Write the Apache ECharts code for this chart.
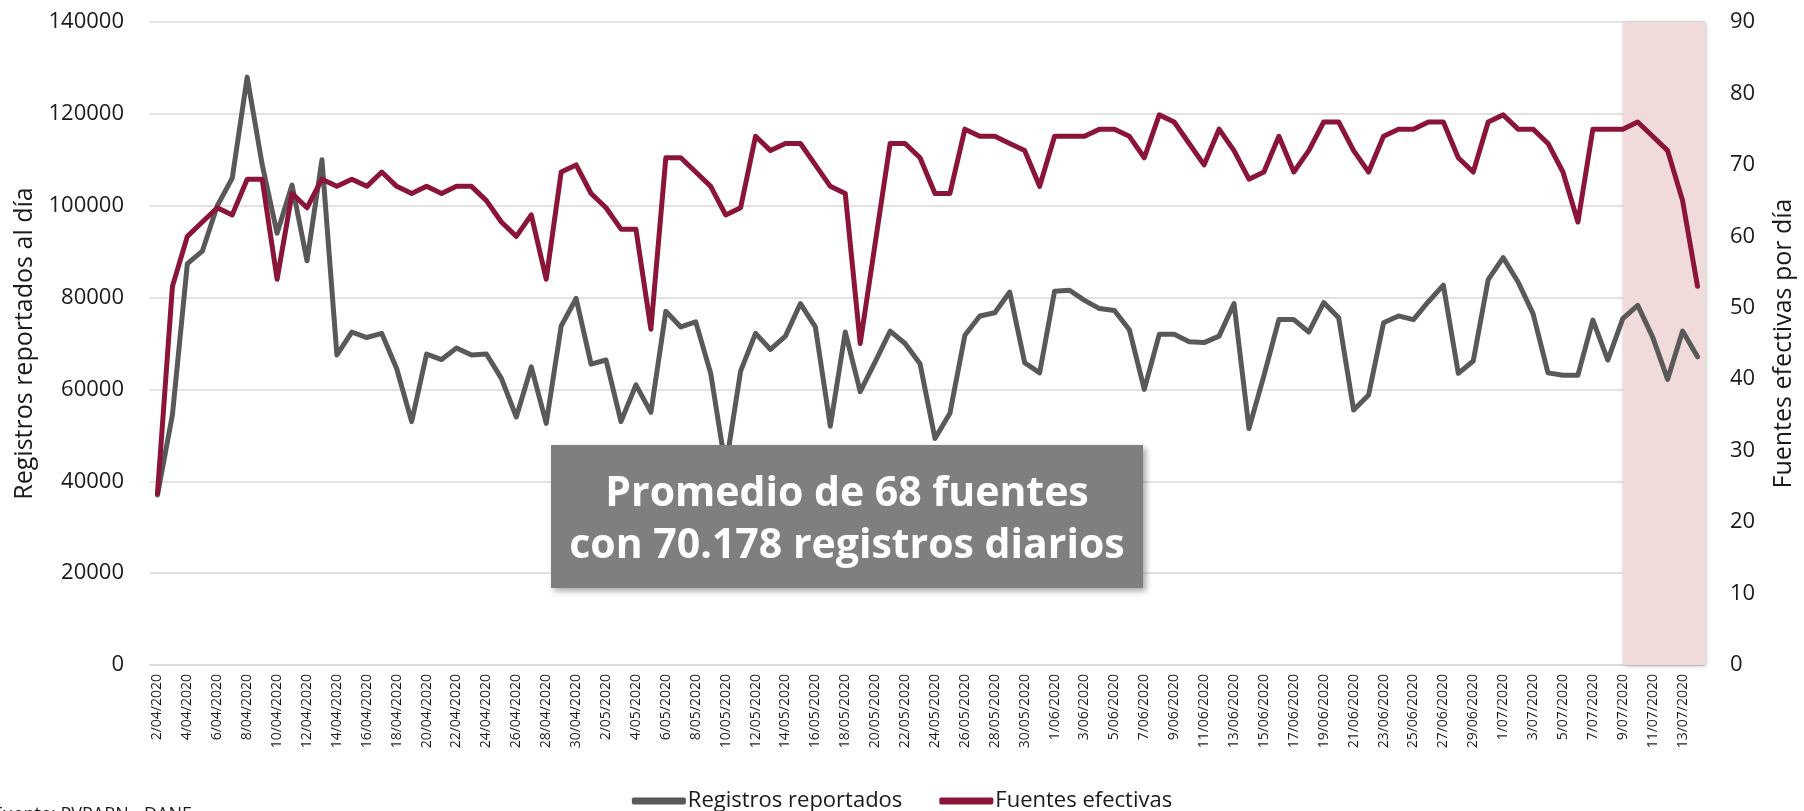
<!DOCTYPE html>
<html>
<head>
<meta charset="utf-8">
<script src="https://cdn.jsdelivr.net/npm/echarts@6/dist/echarts.min.js"></script>
<style>
  html, body { margin: 0; padding: 0; background: #fff; }
  #chart { width: 1804px; height: 811px; }
</style>
</head>
<body>
<div id="chart"></div>
<script>
// fechas 2/04/2020 .. 14/07/2020 (un punto por día)
var months = [['04', 2, 30], ['05', 1, 31], ['06', 1, 30], ['07', 1, 14]];
var fechas = [];
months.forEach(function (m) {
  for (var d = m[1]; d <= m[2]; d++) fechas.push(d + '/' + m[0] + '/2020');
});

// registros reportados al día (eje izquierdo)
var registros = [
  37000, 54500, 87400, 90100, 100000, 106000, 128000, 109000, 94000, 104500,
  88000, 110000, 67500, 72500, 71300, 72200, 64500, 53000, 67700, 66500,
  69000, 67500, 67700, 62400, 54000, 64900, 52600, 73800, 79800, 65500,
  66400, 53000, 61000, 55000, 77000, 73600, 74700, 63500, 43000, 64000,
  72200, 68700, 71600, 78700, 73600, 52000, 72500, 59500, 66000, 72700,
  70000, 65600, 49300, 54800, 71800, 76000, 76700, 81200, 65800, 63600,
  81400, 81600, 79400, 77600, 77200, 73000, 60000, 72000, 72000, 70400,
  70200, 71600, 78700, 51500, 63000, 75200, 75200, 72500, 78900, 75600,
  55500, 58800, 74500, 76000, 75200, 79100, 82700, 63500, 66200, 83900,
  88700, 83400, 76500, 63600, 63100, 63100, 75100, 66400, 75400, 78300,
  71400, 62200, 72700, 67100
];

// fuentes efectivas por día (eje derecho)
var fuentes = [
  24, 53, 60, 62, 64, 63, 68, 68, 54, 66,
  64, 68, 67, 68, 67, 69, 67, 66, 67, 66,
  67, 67, 65, 62, 60, 63, 54, 69, 70, 66,
  64, 61, 61, 47, 71, 71, 69, 67, 63, 64,
  74, 72, 73, 73, 70, 67, 66, 45, 59, 73,
  73, 71, 66, 66, 75, 74, 74, 73, 72, 67,
  74, 74, 74, 75, 75, 74, 71, 77, 76, 73,
  70, 75, 72, 68, 69, 74, 69, 72, 76, 76,
  72, 69, 74, 75, 75, 76, 76, 71, 69, 76,
  77, 75, 75, 73, 69, 62, 75, 75, 75, 76,
  74, 72, 65, 53
];

var inicioSombreado = '9/07/2020';
var nota = 'Promedio de 68 fuentes\ncon 70.178 registros diarios';
var fuente = 'Fuente: PVPARN - DANE';

var FONT = '"Open Sans", "Noto Sans", sans-serif';
var TEXTO = '#1a1a1a';
var GRIS = '#595959';
var VINO = '#8B1538';

var chart = echarts.init(document.getElementById('chart'));
chart.setOption({
  animation: false,
  textStyle: { fontFamily: FONT },
  grid: { left: 150, right: 94, top: 22, bottom: 146 },
  legend: {
    data: ['Registros reportados', 'Fuentes efectivas'],
    left: 'center',
    top: 785,
    icon: 'roundRect',
    itemWidth: 54,
    itemHeight: 7,
    itemGap: 37,
    textStyle: { fontSize: 22, color: TEXTO, fontFamily: FONT, padding: [0, 0, 0, -3] }
  },
  xAxis: {
    type: 'category',
    data: fechas,
    boundaryGap: true,
    axisLine: { lineStyle: { color: '#D9D9D9', width: 1.5 } },
    axisTick: { interval: 1, length: 6, lineStyle: { color: '#D9D9D9', width: 1.5 } },
    axisLabel: { interval: 1, rotate: 90, margin: 9, fontSize: 14, color: TEXTO }
  },
  yAxis: [
    {
      type: 'value',
      min: 0, max: 140000, interval: 20000,
      name: 'Registros reportados al día',
      nameLocation: 'middle',
      nameGap: 113,
      nameTextStyle: { fontSize: 25, color: TEXTO },
      axisLine: { show: false },
      axisTick: { show: false },
      axisLabel: {
        fontSize: 22, color: TEXTO, margin: 26,
        formatter: function (v) { return String(v); }
      },
      splitLine: { lineStyle: { color: '#D9D9D9', width: 1.5 } }
    },
    {
      type: 'value',
      min: 0, max: 90, interval: 10,
      name: 'Fuentes efectivas por día',
      nameLocation: 'middle',
      nameGap: 66,
      nameTextStyle: { fontSize: 25, color: TEXTO },
      axisLine: { show: false },
      axisTick: { show: false },
      axisLabel: { fontSize: 22, color: TEXTO, margin: 25 },
      splitLine: { show: false }
    }
  ],
  series: [
    {
      name: 'Registros reportados',
      type: 'line',
      yAxisIndex: 0,
      data: registros,
      symbol: 'none',
      itemStyle: { color: GRIS },
      lineStyle: { color: GRIS, width: 5, cap: 'round', join: 'round' },
      markArea: {
        silent: true,
        itemStyle: {
          color: '#F0DADA',
          shadowBlur: 4,
          shadowColor: 'rgba(0,0,0,0.25)',
          shadowOffsetX: 1,
          shadowOffsetY: 1
        },
        data: [[{ xAxis: inicioSombreado }, {}]]
      }
    },
    {
      name: 'Fuentes efectivas',
      type: 'line',
      yAxisIndex: 1,
      data: fuentes,
      symbol: 'none',
      itemStyle: { color: VINO },
      lineStyle: { color: VINO, width: 5, cap: 'round', join: 'round' }
    }
  ],
  graphic: [
    {
      type: 'group',
      left: 551,
      top: 445,
      children: [
        {
          type: 'rect',
          z: 100,
          shape: { x: 0, y: 0, width: 592, height: 143 },
          style: {
            fill: '#7F7F7F',
            shadowBlur: 6,
            shadowColor: 'rgba(0,0,0,0.35)',
            shadowOffsetX: 3,
            shadowOffsetY: 3
          }
        },
        {
          type: 'text',
          z: 101,
          x: 296,
          y: 75,
          style: {
            text: nota,
            fill: '#fff',
            fontFamily: FONT,
            fontWeight: 'bold',
            fontSize: 41,
            lineHeight: 52,
            align: 'center',
            verticalAlign: 'middle'
          }
        }
      ]
    },
    {
      type: 'text',
      left: -7,
      top: 806,
      style: { text: fuente, fill: TEXTO, fontFamily: FONT, fontSize: 18 }
    }
  ]
});
</script>
</body>
</html>
